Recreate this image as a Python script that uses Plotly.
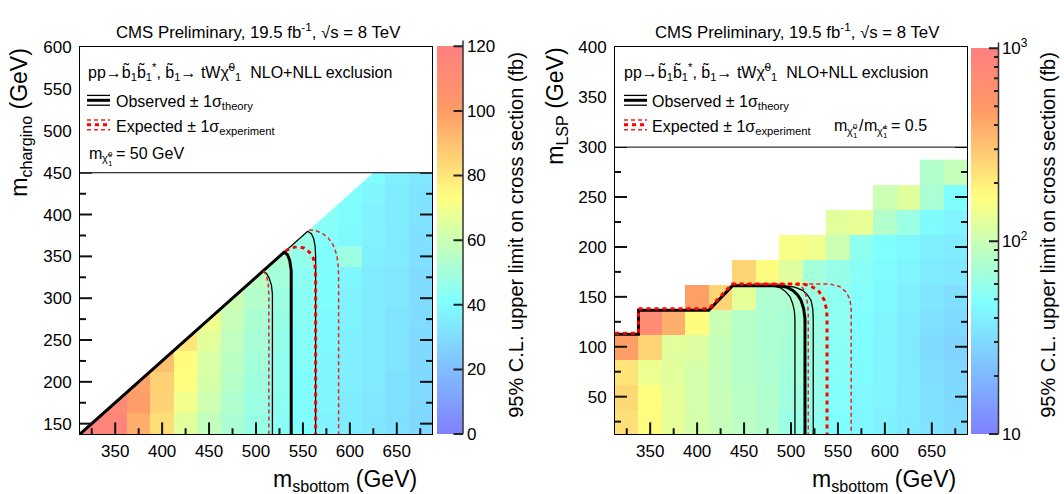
import numpy as np
import plotly.graph_objects as go

W, H = 1064, 494
FONT = "Liberation Sans, Arial, sans-serif"
N = None

# ---------------- data: left panel (m_chargino vs m_sbottom, mLSP = 50 GeV) ----------------
x_bins = [325, 350, 375, 400, 425, 450, 475, 500, 525, 550, 575, 600, 625, 650, 675]
yl_bins = [150, 175, 200, 225, 250, 275, 300, 325, 350, 375, 400, 425, 450]
zl = [
    [118, 116, 95, 82, 66, 58, 52, 47, 43, 40, 37, 35, 33, 31, 28],
    [N, 112, 100, 85, 70, 61, 53, 48, 44, 41, 38, 35, 33, 31, 29],
    [N, N, 98, 86, 73, 63, 55, 49, 45, 41, 38, 36, 34, 31, 29],
    [N, N, N, 90, 74, 64, 56, 50, 45, 42, 38, 36, 34, 32, 29],
    [N, N, N, N, 80, 66, 57, 51, 46, 42, 39, 36, 34, 32, 29],
    [N, N, N, N, N, 70, 59, 52, 47, 43, 39, 37, 34, 32, 30],
    [N, N, N, N, N, N, 60, 54, 48, 43, 40, 37, 35, 33, 30],
    [N, N, N, N, N, N, N, 56, 50, 44, 40, 38, 35, 33, 30],
    [N, N, N, N, N, N, N, N, 52, 46, 41, 48, 36, 34, 31],
    [N, N, N, N, N, N, N, N, N, 47, 42, 39, 37, 34, 31],
    [N, N, N, N, N, N, N, N, N, N, 43, 40, 37, 35, 32],
    [N, N, N, N, N, N, N, N, N, N, N, 41, 38, 35, 32],
    [N, N, N, N, N, N, N, N, N, N, N, N, 40, 36, 33],
]
left_ticks_cb = [0, 20, 40, 60, 80, 100, 120]
DM_TOP = 175.0  # kinematic boundary m_chargino = m_sbottom - 175

# axis tick values
x_major = [350, 400, 450, 500, 550, 600, 650]
x_minor = [325, 375, 425, 475, 525, 575, 625, 675]
yl_major = [150, 200, 250, 300, 350, 400, 450]
yl_minor = [175, 225, 275, 325, 375, 425]
yr_major = [50, 100, 150, 200, 250, 300]
yr_minor = [25, 75, 125, 175, 225, 275]

# contours, left
l_obs_x = [312.5, 530, 533.5, 536, 537.5, 537.5]
l_obs_y = [137.5, 355, 352, 345, 333, 137.5]
l_obsm_x = [312.5, 507.5, 511, 514, 516.5, 517.5, 517.5]
l_obsm_y = [137.5, 332.5, 330, 324, 315, 305, 137.5]
l_obsp_x = [312.5, 555, 559, 561.5, 563, 563.5, 563.5]
l_obsp_y = [137.5, 380, 377, 371, 362, 350, 137.5]
l_exp_x = [531.5, 537, 544, 551, 557, 561, 563, 563.5, 563.5]
l_exp_y = [356.5, 360, 361.5, 360, 355, 348, 338, 325, 137.5]
l_expm_x = [508, 511, 513, 513.7, 513.7]
l_expm_y = [333, 327, 318, 305, 137.5]
l_expp_x = [556.5, 563, 570, 577, 582, 586, 587.5, 588, 588]
l_expp_y = [381.5, 381, 378, 372, 364, 352, 340, 325, 137.5]

# ---------------- data: right panel (m_LSP vs m_sbottom, ratio 0.5) ----------------
yr_bins = [25, 50, 75, 100, 125, 150, 175, 200, 225, 250, 275]
r_cols = [
    [230, 250, 220, 450],
    [170, 165, 140, 260, 700],
    [130, 130, 125, 125, 380],
    [110, 110, 110, 120, 170, 450],
    [95, 95, 95, 95, 100, 260],
    [85, 85, 82, 82, 82, 130, 260],
    [78, 78, 76, 75, 75, 75, 170],
    [62, 65, 68, 70, 72, 76, 123, 158],
    [56, 58, 60, 62, 62, 62, 68, 145],
    [48, 50, 52, 53, 55, 55, 60, 100, 125],
    [44, 45, 46, 47, 48, 50, 52, 55, 135],
    [41, 42, 42, 42, 43, 45, 46, 48, 78, 100],
    [37, 38, 37, 37, 38, 40, 42, 44, 62, 125],
    [34, 33, 32, 31, 33, 35, 38, 40, 46, 72, 78],
    [31, 30, 29, 28, 30, 32, 36, 38, 42, 48, 95],
]
right_cb_major = [10, 100, 1000]
right_cb_minor = [20, 30, 40, 50, 60, 70, 80, 90, 200, 300, 400, 500, 600, 700, 800, 900]

# contours, right
r_obs_x = [312.5, 337.5, 337.5, 412.5, 437.5, 487, 496, 502, 507, 510.6, 513.5, 514.9, 514.9]
r_obs_y = [112.5, 112.5, 136.5, 136.5, 161, 161, 159.5, 156.5, 152, 146.7, 138, 128, 12.5]
r_obsm_x = [312.5, 337.5, 337.5, 412.5, 437.5, 480, 489, 494.5, 499, 501.7, 503.6, 504.2, 504.2]
r_obsm_y = [112.5, 112.5, 136.5, 136.5, 161, 161, 159, 155, 150, 143.4, 136, 128, 12.5]
r_obsp_x = [312.5, 337.5, 337.5, 412.5, 437.5, 493, 504, 512.4, 517.5, 521.3, 523.2, 523.7, 523.7]
r_obsp_y = [112.5, 112.5, 136.5, 136.5, 161, 161, 159.8, 156.5, 152, 146.7, 138, 128, 12.5]
r_exp_x = [312.5, 337.5, 337.5, 412.5, 437.5, 512, 519.5, 525.5, 530.2, 535.5, 538, 538.4, 538.4]
r_exp_y = [113.5, 113.5, 138, 138, 163, 163, 161.4, 158.5, 154.9, 146.7, 136.8, 128, 12.5]
r_expm_x = [437.5, 501.7, 507.5, 512.4, 515, 516.7, 518, 518.4, 518.4]
r_expm_y = [163, 163, 162, 159.1, 154.5, 148.3, 140, 130, 12.5]
r_expp_x = [437.5, 540.9, 551.6, 558.8, 562.3, 564.1, 564.1]
r_expp_y = [163, 163, 160.4, 154.9, 148.3, 140.2, 12.5]

COLORSCALE = [[0.0, "rgb(128,128,255)"], [0.34, "rgb(128,255,255)"],
              [0.61, "rgb(255,255,128)"], [0.84, "rgb(255,153,102)"],
              [1.0, "rgb(255,128,128)"]]

def px(x):
    return x / W

def py(y):
    return 1 - y / H

PLOT_W, PLOT_H = 352.0, 394.0
XR = [312.5, 687.5]
YLR = [137.5, 600]
YRR = [12.5, 400]
TICK_COLOR, TICK_W = "#111111", 2
fig = go.Figure()

# ---- left heatmap
fig.add_trace(go.Heatmap(
    x=x_bins, y=yl_bins, z=zl, zmin=0, zmax=120, colorscale=COLORSCALE,
    xaxis="x", yaxis="y", hoverinfo="skip",
    colorbar=dict(x=px(437), xanchor="left", xpad=0, y=py(433), yanchor="bottom", ypad=0,
                  len=(433 - 38) / H, lenmode="fraction", thickness=26, thicknessmode="pixels",
                  outlinewidth=0, ticks="",
                  tickvals=left_ticks_cb, tickfont=dict(family=FONT, size=17, color="black")),
))
# mask above kinematic boundary
x_lo, y_top = 312.5, 450.0
fig.add_trace(go.Scatter(
    x=[x_lo, y_top + DM_TOP, x_lo, x_lo], y=[x_lo - DM_TOP, y_top, y_top, x_lo - DM_TOP],
    mode="lines", fill="toself", fillcolor="white", line=dict(width=0, color="white"),
    xaxis="x", yaxis="y", hoverinfo="skip", showlegend=False))

def add_line(xs, ys, xa, ya, color, width, dash="solid"):
    fig.add_trace(go.Scatter(x=xs, y=ys, mode="lines", xaxis=xa, yaxis=ya,
                             line=dict(color=color, width=width, dash=dash),
                             hoverinfo="skip", showlegend=False))

THIN_D = "4px,3px"
THICK_D = "4px,4px"
add_line(l_obsm_x, l_obsm_y, "x", "y", "black", 1.3)
add_line(l_obsp_x, l_obsp_y, "x", "y", "black", 1.3)
add_line(l_obs_x, l_obs_y, "x", "y", "black", 3)
add_line(l_expm_x, l_expm_y, "x", "y", "#ee2020", 1.5, THIN_D)
add_line(l_expp_x, l_expp_y, "x", "y", "#ee2020", 1.5, THIN_D)
add_line(l_exp_x, l_exp_y, "x", "y", "red", 3, THICK_D)

# ---- right heatmap
zr = []
for j in range(len(yr_bins)):
    row = []
    for col in r_cols:
        row.append(float(np.log10(col[j])) if j < len(col) else None)
    zr.append(row)
cb_vals = [float(np.log10(v)) for v in right_cb_major]
cb_text = ["10", "10<sup>2</sup>", "10<sup>3</sup>"]
fig.add_trace(go.Heatmap(
    x=x_bins, y=yr_bins, z=zr, zmin=1, zmax=3, colorscale=COLORSCALE,
    xaxis="x2", yaxis="y2", hoverinfo="skip",
    colorbar=dict(x=px(971), xanchor="left", xpad=0, y=py(433), yanchor="bottom", ypad=0,
                  len=(433 - 40) / H, lenmode="fraction", thickness=27, thicknessmode="pixels",
                  outlinewidth=0, ticks="",
                  tickvals=cb_vals, ticktext=cb_text,
                  tickfont=dict(family=FONT, size=17, color="black")),
))
add_line(r_obsm_x, r_obsm_y, "x2", "y2", "black", 1.3)
add_line(r_obsp_x, r_obsp_y, "x2", "y2", "black", 1.3)
add_line(r_obs_x, r_obs_y, "x2", "y2", "black", 3)
add_line(r_expm_x, r_expm_y, "x2", "y2", "#ee2020", 1.5, THIN_D)
add_line(r_expp_x, r_expp_y, "x2", "y2", "#ee2020", 1.5, THIN_D)
add_line(r_exp_x, r_exp_y, "x2", "y2", "red", 3, THICK_D)

# ---- axis ticks: one short line trace per tick (inside, bottom / left / right)
def add_ticks(xa, ya, yrange, ymaj, ymin):
    ys = (yrange[1] - yrange[0]) / PLOT_H
    xs = (XR[1] - XR[0]) / PLOT_W
    for vals, ln in [(x_major, 12), (x_minor, 6)]:
        for v in vals:
            add_line([v, v], [yrange[0], yrange[0] + ln * ys], xa, ya, TICK_COLOR, TICK_W)
    for vals, ln in [(ymaj, 12), (ymin, 6)]:
        for v in vals:
            add_line([XR[0], XR[0] + ln * xs], [v, v], xa, ya, TICK_COLOR, TICK_W)
            add_line([XR[1] - ln * xs, XR[1]], [v, v], xa, ya, TICK_COLOR, TICK_W)

add_ticks("x", "y", YLR, yl_major, yl_minor)
add_ticks("x2", "y2", YRR, yr_major, yr_minor)

axis_common = dict(showgrid=False, zeroline=False, showline=True, linecolor="black", linewidth=1,
                   mirror=True, ticks="", dtick=50, tick0=0,
                   tickfont=dict(family=FONT, size=17, color="black"))

ydom = [py(433), py(39)]
fig.update_layout(
    width=W, height=H, margin=dict(l=0, r=0, t=0, b=0),
    paper_bgcolor="white", plot_bgcolor="white", showlegend=False,
    xaxis=dict(domain=[px(80), px(432)], range=XR, anchor="y", ticklabelstandoff=1, **axis_common),
    yaxis=dict(domain=ydom, range=YLR, anchor="x", ticklabelstandoff=4, **axis_common),
    xaxis2=dict(domain=[px(615), px(967)], range=XR, anchor="y2", ticklabelstandoff=1, **axis_common),
    yaxis2=dict(domain=ydom, range=YRR, anchor="x2", ticklabelstandoff=4, **axis_common),
)

shapes = []
# legend boxes (white) and separation lines
shapes.append(dict(type="rect", xref="x domain", yref="y", x0=0, x1=1, y0=450, y1=600,
                   fillcolor="white", line=dict(width=0), layer="above"))
shapes.append(dict(type="line", xref="x domain", yref="y", x0=0, x1=1, y0=450, y1=450,
                   line=dict(color="black", width=1), layer="above"))
shapes.append(dict(type="rect", xref="x2 domain", yref="y2", x0=0, x1=1, y0=300, y1=400,
                   fillcolor="white", line=dict(width=0), layer="above"))
shapes.append(dict(type="line", xref="x2 domain", yref="y2", x0=0, x1=1, y0=300, y1=300,
                   line=dict(color="black", width=1), layer="above"))

# legend symbols
for x0 in (87, 624):
    x1 = x0 + 23
    for yy, w in [(88, 1.3), (93, 3), (98, 1.3)]:
        shapes.append(dict(type="line", xref="paper", yref="paper", x0=px(x0), x1=px(x1),
                           y0=py(yy), y1=py(yy), line=dict(color="black", width=w), layer="above"))
    for yy, w, d, c in [(113, 1.5, "4px,3px", "#ee2020"), (118, 3, "4px,4px", "red"),
                        (123, 1.5, "4px,3px", "#ee2020")]:
        shapes.append(dict(type="line", xref="paper", yref="paper", x0=px(x0), x1=px(x1),
                           y0=py(yy), y1=py(yy), line=dict(color=c, width=w, dash=d), layer="above"))
fig.update_layout(shapes=shapes)

bt = "b\u0303"
chi = "\u03c7\u0303"
ann = []

def text(x, y, s, size, xanchor="left", yanchor="middle", angle=0):
    ann.append(dict(x=px(x), y=py(y), xref="paper", yref="paper", text=s, showarrow=False,
                    xanchor=xanchor, yanchor=yanchor, textangle=angle, borderpad=0,
                    font=dict(family=FONT, size=size, color="black")))

def seg(x, y, dx, dy, w=2, color="#222"):
    # short line drawn above the colorbars (annotation arrow without head)
    ann.append(dict(x=px(x), y=py(y), xref="paper", yref="paper", text="", showarrow=True,
                    ax=dx, ay=dy, arrowhead=0, arrowwidth=w,
                    arrowcolor=color, standoff=0, startstandoff=0))

# colorbar ticks (right edge, pointing into the bar) + right edge line
CB_L = (463, 38, 433)
for v in left_ticks_cb:
    yy = CB_L[2] - v / 120.0 * (CB_L[2] - CB_L[1])
    seg(CB_L[0], yy, -11, 0)
CB_R = (998.5, 40, 433)
for vals, ln in [(right_cb_major, 11), (right_cb_minor, 6)]:
    for v in vals:
        yy = CB_R[2] - (np.log10(v) - 1) / 2.0 * (CB_R[2] - CB_R[1])
        seg(CB_R[0], float(yy), -ln, 0)
for cx, ct, cb in [CB_L, CB_R]:
    seg(cx, cb, 0, -(cb - ct), 1.5, "#333")

header = "CMS Preliminary, 19.5 fb<sup>-1</sup>, \u221as = 8 TeV"
text(258, 22, header, 16.8, "center")
text(797, 22, header, 16.8, "center")
proc = ("pp\u2192" + bt + "<sub>1</sub>" + bt + "<sub>1</sub><sup>*</sup>, " + bt + "<sub>1</sub>\u2192 tW"
        + chi + "<sup>0</sup><sub>1</sub>\u00a0\u00a0NLO+NLL exclusion")
for x0 in (87, 623):
    text(x0, 64, proc, 16)
    text(x0 + 28, 95, "Observed \u00b1 1\u03c3<sub>theory</sub>", 16)
    text(x0 + 28, 121, "Expected \u00b1 1\u03c3<sub>experiment</sub>", 16)

# "m" with a stacked chi subscript (drawn as small separate texts)
def mchi(x, y, charge):
    text(x, y, "m", 16)
    text(x + 13, y + 5, chi, 11)
    text(x + 19, y + 1, charge, 8)
    text(x + 19, y + 10, "1", 8)

mchi(88, 147, "0")
text(115, 147, "= 50 GeV", 16)
mchi(833, 119, "0")
text(858, 119, "/", 16)
mchi(863, 119, "\u00b1")
text(890, 119, "= 0.5", 16)

text(418, 480, "m<sub>sbottom</sub> (GeV)", 23, "right")
text(957, 480, "m<sub>sbottom</sub> (GeV)", 23, "right")
text(21, 39, "m<sub>chargino</sub> (GeV)", 23, "center", "top", -90)
text(557, 39, "m<sub>LSP</sub> (GeV)", 23, "center", "top", -90)
text(516, 230, "95% C.L. upper limit on cross section (fb)", 20, "center", "middle", -90)
text(1048, 230, "95% C.L. upper limit on cross section (fb)", 20, "center", "middle", -90)
fig.update_layout(annotations=ann)

fig.write_html("out.html")
